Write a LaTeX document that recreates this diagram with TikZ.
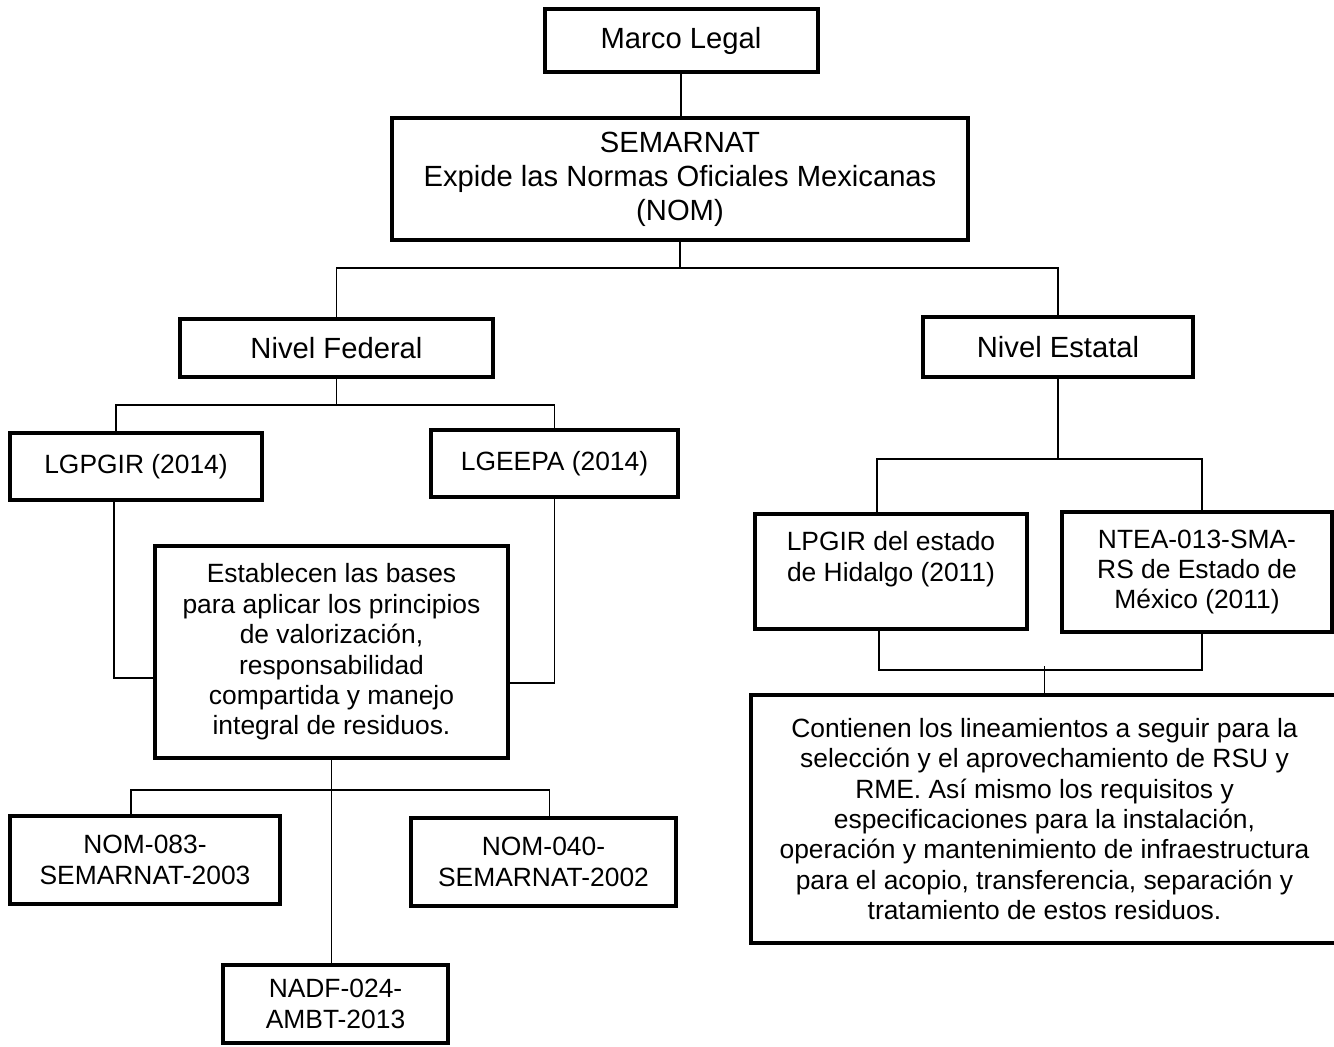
\documentclass[tikz,border=0pt]{standalone}
\usepackage{fontspec}
\setmainfont{Liberation Sans}
\usetikzlibrary{positioning}

\begin{document}
\begin{tikzpicture}[x=0.5pt,y=-0.5pt,
    caja/.style={draw,line width=2pt,align=center,inner sep=1pt,font=\fontsize{13.2}{15.2}\selectfont},
    cajagrande/.style={caja,font=\fontsize{14.6}{17}\selectfont},
    linea/.style={line width=0.8pt}]
  \useasboundingbox (0,0) rectangle (1334,1047);
  \node[cajagrande,minimum width=136.5pt,minimum height=31.5pt] (marco) at (681,41) {Marco Legal};
  \node[cajagrande,minimum width=288pt,minimum height=61pt] (semarnat) at (680,179) {SEMARNAT\\Expide las Normas Oficiales Mexicanas\\(NOM)};
  \node[cajagrande,minimum width=156.5pt,minimum height=29pt] (federal) at (336.5,348) {Nivel Federal};
  \node[cajagrande,minimum width=135pt,minimum height=30pt] (estatal) at (1058,347) {Nivel Estatal};
  \node[caja,minimum width=126pt,minimum height=33.5pt] (lgpgir) at (136,466.5) {LGPGIR (2014)};
  \node[caja,minimum width=123.5pt,minimum height=33.5pt] (lgeepa) at (554.5,463.5) {LGEEPA (2014)};
  \node[caja,minimum width=176.5pt,minimum height=106pt] (bases) at (331.5,652) {Establecen las bases\\para aplicar los principios\\de valorización,\\responsabilidad\\compartida y manejo\\integral de residuos.};
  \node[caja,minimum width=135pt,minimum height=44pt] (nom083) at (145,860) {NOM-083-\\SEMARNAT-2003};
  \node[caja,minimum width=132.5pt,minimum height=44pt] (nom040) at (543.5,862) {NOM-040-\\SEMARNAT-2002};
  \node[caja,minimum width=112.5pt,minimum height=39pt] (nadf) at (335.5,1004) {NADF-024-\\AMBT-2013};
  \node[caja,minimum width=136pt,minimum height=57.5pt] (lpgir) at (891,571.5) {LPGIR del estado\\de Hidalgo (2011)\\\mbox{}};
  \node[caja,minimum width=135pt,minimum height=60pt] (ntea) at (1197,572) {NTEA-013-SMA-\\RS de Estado de\\México (2011)};
  \node[caja,minimum width=293.5pt,minimum height=124pt] (lineam) at (1044.5,819) {Contienen los lineamientos a seguir para la\\selección y el aprovechamiento de RSU y\\RME. Así mismo los requisitos y\\especificaciones para la instalación,\\operación y mantenimiento de infraestructura\\para el acopio, transferencia, separación y\\tratamiento de estos residuos.};

  \draw[linea] (marco.south) -- (marco.south |- semarnat.north);
  \draw[linea] (semarnat.south) -- ++(0,26) coordinate (bus1);
  \draw[linea] (federal.north) |- (bus1) -| (estatal.north);
  \draw[linea] (federal.south) -- ++(0,26) coordinate (bus2);
  \draw[linea] ([xshift=-10pt]lgpgir.north) |- (bus2) -| (lgeepa.north);
  \draw[linea] ([xshift=-11pt]lgpgir.south) |- ([yshift=-13pt]bases.west);
  \draw[linea] (lgeepa.south) |- ([yshift=-15.5pt]bases.east);
  \draw[linea] (bases.south) -- (bases.south |- nadf.north);
  \path (bases.south) ++(0,30) coordinate (bus3);
  \draw[linea] ([xshift=-7pt]nom083.north) |- (bus3) -| ([xshift=3pt]nom040.north);
  \draw[linea] (estatal.south) -- ++(0,80) coordinate (bus4);
  \draw[linea] ([xshift=-7pt]lpgir.north) |- (bus4) -| ([xshift=2.5pt]ntea.north);
  \draw[linea] ([xshift=-6pt]lpgir.south) -- ++(0,39) -| ([xshift=2.5pt]ntea.south);
  \draw[linea] (lineam.north) -- ++(0,-27);
\end{tikzpicture}
\end{document}
